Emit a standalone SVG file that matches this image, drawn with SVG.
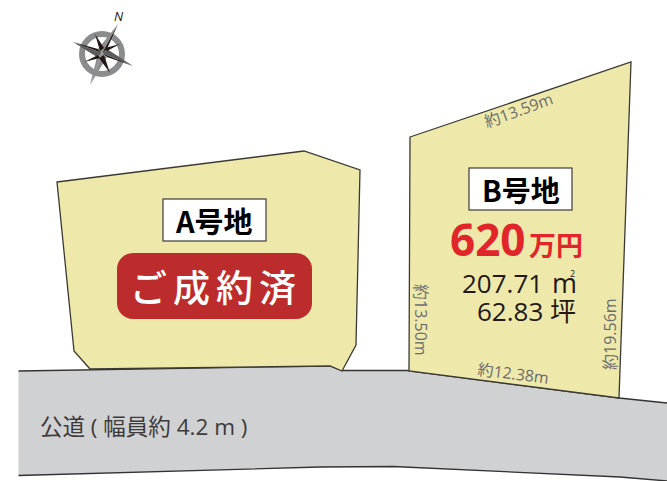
<svg xmlns="http://www.w3.org/2000/svg" width="667" height="481" viewBox="0 0 667 481">
<style>
text{font-family:"Open Sans","Noto Sans CJK JP",sans-serif}
.lot{fill:#eee9ab;stroke:#3a3a32;stroke-width:1.3;stroke-linejoin:miter}
.label{fill:#fff;stroke:#3e3a39;stroke-width:1.2}
.lt{font-family:"Noto Sans CJK JP",sans-serif;font-weight:700;font-size:29px;fill:#000}
.dim{font-size:16px;fill:#6b6c6e}
.area{font-size:26px;fill:#231815}
</style>
<rect width="667" height="481" fill="#fff"/>
<g id="road">
<path d="M18.500 371 L330 366 L342 370.500 L407 370.500 L619 398 L667 403 L667 481 L620 477 L393 466.500 L320 467 L18.500 475.500 Z" fill="#d0d1d3"/>
<path d="M18.500 371 L330 366 L342 370.500 L407 370.500 L619 398 L667 403 M18.500 475.500 L320 467 L393 466.500 L620 477 L667 481" fill="none" stroke="#333" stroke-width="1.300"/>
<text x="40" y="435" font-size="22.500" fill="#3e3a39" font-family="'Noto Sans CJK JP',sans-serif">公道 ( 幅員約 4.2 m )</text>
</g>
<g id="lot-a">
<path class="lot" d="M57 182 L304 151 L360 170 L356 345 L342 371 L330 366 L90 369 L74 351 Z"/>
<rect class="label" x="163" y="199" width="103" height="42"/>
<text class="lt" x="176" y="233">A号地</text>
<rect x="117" y="253" width="195" height="66" rx="16" fill="#bd2c2c"/>
<text x="130" y="302" font-size="37" fill="#fff" letter-spacing="6" font-family="'Noto Sans CJK JP',sans-serif" font-weight="500">ご成約済</text>
</g>
<g id="lot-b">
<path class="lot" d="M410 137 L631 62 L619 398 L409 371 Z"/>
<rect class="label" x="469" y="168" width="103" height="42"/>
<text class="lt" x="482" y="202">B号地</text>
<text x="450" y="256" font-size="44" font-weight="700" fill="#e1262b">620</text>
<text x="529" y="256" font-size="27" font-weight="700" fill="#e1262b" font-family="'Noto Sans CJK JP',sans-serif">万円</text>
<text class="area" x="462" y="293">207.71</text>
<text class="area" x="552" y="293" style="font-size:27px">m</text>
<text x="570" y="277" font-size="9" fill="#231815">2</text>
<text class="area" x="477" y="321">62.83</text>
<text class="area" x="550" y="321" font-family="'Noto Sans CJK JP',sans-serif">坪</text>
<text class="dim" transform="translate(487,128) rotate(-20)">約13.59m</text>
<text class="dim" transform="translate(477,375) rotate(7)">約12.38m</text>
<text class="dim" transform="translate(415,284) rotate(90)">約13.50m</text>
<text class="dim" transform="translate(616,370) rotate(-90)">約19.56m</text>
</g>
<g id="compass">
<circle cx="102" cy="54" r="20" fill="none" stroke="#8b8c8e" stroke-width="6"/>
<path d="M118 24 L107 49 L102 53 Z" fill="#231815"/>
<path d="M73 42 L98 49 L102 53 Z M133 66 L107 57 L102 53 Z" fill="#231815"/>
<path d="M73 42 L97 57 L102 53 Z M133 66 L107 49 L102 53 Z" fill="#5c5c5c"/>
<path d="M118 24 L98 49 L102 53 Z M90 85 L107 57 L102 53 Z" fill="#8b8c8e"/>
<path d="M90 85 L97 57 L102 53 Z" fill="#8b8c8e"/>
<path d="M95 34 L104 48 L100 51 Z M110 73 L99 58 L104 55 Z M84 62 L98 55 L100 58 Z M120 44 L107 51 L105 48 Z" fill="#231815"/>
<text x="114" y="21" font-size="13" font-style="italic" fill="#231815" font-family="'Liberation Serif',serif">N</text>
</g>
</svg>
